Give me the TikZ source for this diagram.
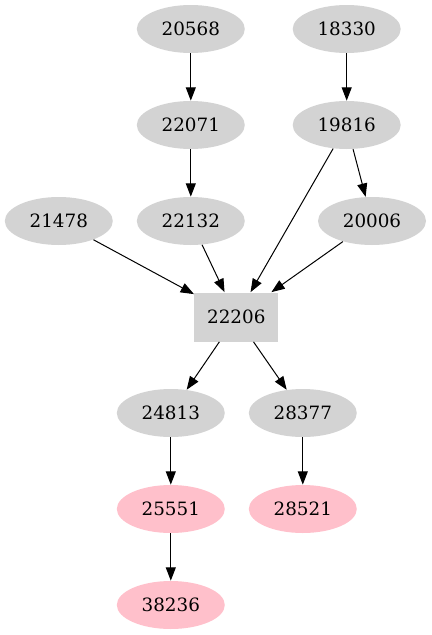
\documentclass[tikz,border=0pt]{standalone}
\usepackage{fontspec}
\setmainfont{DejaVu Serif}
\usepackage{tikz}
\usetikzlibrary{shapes.geometric, arrows.meta, positioning}

\definecolor{nodegray}{HTML}{D3D3D3}
\definecolor{nodepink}{HTML}{FFC0CB}

\begin{document}
\begin{tikzpicture}[x=0.6pt, y=-0.6pt,
        every node/.style={font=\fontsize{11}{13}\selectfont, inner sep=0pt},
        gnode/.style={ellipse, fill=nodegray, minimum width=64.8pt, minimum height=28.8pt},
        pnode/.style={ellipse, fill=nodepink, minimum width=64.8pt, minimum height=28.8pt},
        hub/.style={rectangle, fill=nodegray, minimum width=50.4pt, minimum height=29.4pt},
        edge/.style={-{Triangle[length=8pt, width=6pt]}, line width=0.6pt}]
                \useasboundingbox (0,0) rectangle (431,635);
                % top rows
                \node[gnode] (n20568) at (190.8, 29) {20568};
                \node[gnode] (n18330) at (346.7, 29) {18330};
                \node[gnode] (n22071) at (190.8, 125) {22071};
                \node[gnode] (n19816) at (346.7, 125) {19816};
                \node[gnode] (n21478) at (58.8, 221) {21478};
                \node[gnode] (n22132) at (190.8, 221) {22132};
                \node[gnode] (n20006) at (372, 221) {20006};
                % center
                \node[hub] (n22206) at (236.3, 317) {22206};
                % lower rows
                \node[gnode] (n24813) at (170.8, 413) {24813};
                \node[gnode] (n28377) at (302.8, 413) {28377};
                \node[pnode] (n25551) at (170.8, 509) {25551};
                \node[pnode] (n28521) at (302.8, 509) {28521};
                \node[pnode] (n38236) at (170.8, 605) {38236};
                % edges
                \draw[edge] (n20568) -- (n22071);
                \draw[edge] (n18330) -- (n19816);
                \draw[edge] (n22071) -- (n22132);
                \draw[edge] (n19816) -- (n22206);
                \draw[edge] (n19816) -- (n20006);
                \draw[edge] (n21478) -- (n22206);
                \draw[edge] (n22132) -- (n22206);
                \draw[edge] (n20006) -- (n22206);
                \draw[edge] (n22206) -- (n24813);
                \draw[edge] (n22206) -- (n28377);
                \draw[edge] (n24813) -- (n25551);
                \draw[edge] (n28377) -- (n28521);
                \draw[edge] (n25551) -- (n38236);
\end{tikzpicture}
\end{document}
